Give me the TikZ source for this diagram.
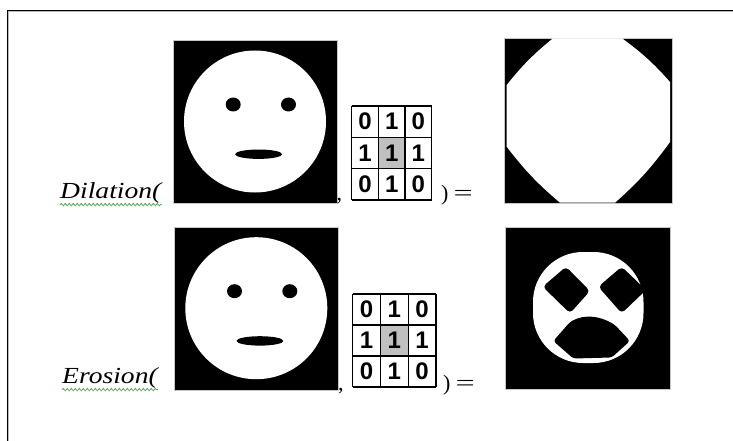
\documentclass[tikz,border=0pt]{standalone}
\usepackage{fontspec}
\setmainfont{Liberation Serif}
\newfontfamily\digitfont{Liberation Sans}
\usetikzlibrary{decorations.pathmorphing}
\definecolor{squiggle}{RGB}{70,170,70}
\definecolor{cellgray}{RGB}{192,192,192}
\tikzset{
  photo/.style={fill=black, draw=gray!45, line width=0.8pt, inner sep=0pt, anchor=north west},
  op/.style={font=\fontsize{23}{23}\selectfont\itshape, anchor=base west, inner sep=0pt},
  opup/.style={font=\fontsize{22}{22}\selectfont, anchor=base west, inner sep=0pt},
  kcell/.style={font=\digitfont\bfseries\fontsize{24}{24}\selectfont, inner sep=0pt},
  gridline/.style={line width=1.4pt},
  squig/.style={draw=squiggle, line width=0.8pt, decorate,
    decoration={snake, amplitude=1.1pt, segment length=4pt}},
  face/.pic={
    \node[photo, minimum width=164pt, minimum height=163pt] (-img) at (0,0) {};
    \fill[white] (82,81.5) circle (71);
    \fill[black] (60.2,64.5) ellipse (7.5 and 7);
    \fill[black] (115.5,64.5) ellipse (7.5 and 7);
    \fill[black] (85.6,114.2) ellipse (23.5 and 4.7);
  }
}
% 3x3 structuring element: name, left, top, cell width, cell height
\newcommand\kernelgrid[5]{%
  \fill[cellgray] ({#2+#4},{#3+#5}) rectangle ++(#4,#5);
  \foreach \ki in {0,...,3} {
    \draw[gridline] ({#2+\ki*#4},#3) -- ++(0,{3*#5});
    \draw[gridline] (#2,{#3+\ki*#5}) -- ++({3*#4},0);
  }
  \foreach \kr/\kc/\kv in {1/1/0,1/2/1,1/3/0,2/1/1,2/2/1,2/3/1,3/1/0,3/2/1,3/3/0}
    \node[kcell] (#1-\kr-\kc) at ({#2+(\kc-0.5)*#4},{#3+(\kr-0.5)*#5}) {\kv};
}
\begin{document}
\begin{tikzpicture}[x=1pt,y=-1pt]
\useasboundingbox (0,0) rectangle (733,441);
% page frame with its shadow
\draw[gray!55, line width=1pt] (8.8,441) -- (8.8,12) -- (733,12);
\draw[line width=1.4pt] (7.3,441) -- (7.3,10.6) -- (733,10.6);

% ---- dilation row ----
\node[op] (dil) at (60,198.5) {\scalebox{1.2}[1]{Dilation(}};
\draw[squig] ([yshift=-1pt]dil.south west) -- ([yshift=-1pt]dil.south east);
\pic (inA) at (173,40) {face};
\node[opup] (commaA) at (336.5,200) {,};
\kernelgrid{kA}{351.7}{106}{26.67}{31.33}
\node[opup] (eqA) at (441,200) {)\hspace{5pt}\scalebox{1.55}[1]{=}};
\node[photo, minimum width=167.7pt, minimum height=164.4pt] (outA) at (504,38.3) {};
\fill[white] (553,38.3) -- (622,38.3) to[bend left=6] (670,82) -- (670,142)
  to[bend left=6] (615,202.7) -- (560,202.7) to[bend left=6] (506.7,146.7)
  -- (506.7,85) to[bend left=6] cycle;

% ---- erosion row ----
\node[op] (ero) at (62,383.5) {\scalebox{1.2}[1]{Erosion(}};
\draw[squig] ([yshift=-1pt]ero.south west) -- ([yshift=-1pt]ero.south east);
\pic (inB) at (174.3,226.7) {face};
\node[opup] (commaB) at (338,390) {,};
\kernelgrid{kB}{352.7}{294}{27.77}{31}
\node[opup] (eqB) at (443,390) {)\hspace{5pt}\scalebox{1.55}[1]{=}};
\node[photo, minimum width=165pt, minimum height=162.3pt] (outB) at (505,226.7) {};
\fill[white, rounded corners=50pt] (533,252) rectangle (643.5,363);
\fill[black, rounded corners=4pt] (542.7,286.7) -- (566,266.7) -- (590,291) -- (570,313.3) -- cycle;
\fill[black, rounded corners=4pt] (598.3,286.7) -- (621.7,266.7) -- (646,290) -- (621.7,313.3) -- cycle;
\fill[black, rounded corners=3pt] (553.3,341) -- (570,322)
  .. controls (585,314) and (600,316) .. (615,325)
  -- (630,341) -- (611.7,357.5) -- (573.3,358.5) -- cycle;
\end{tikzpicture}
\end{document}
